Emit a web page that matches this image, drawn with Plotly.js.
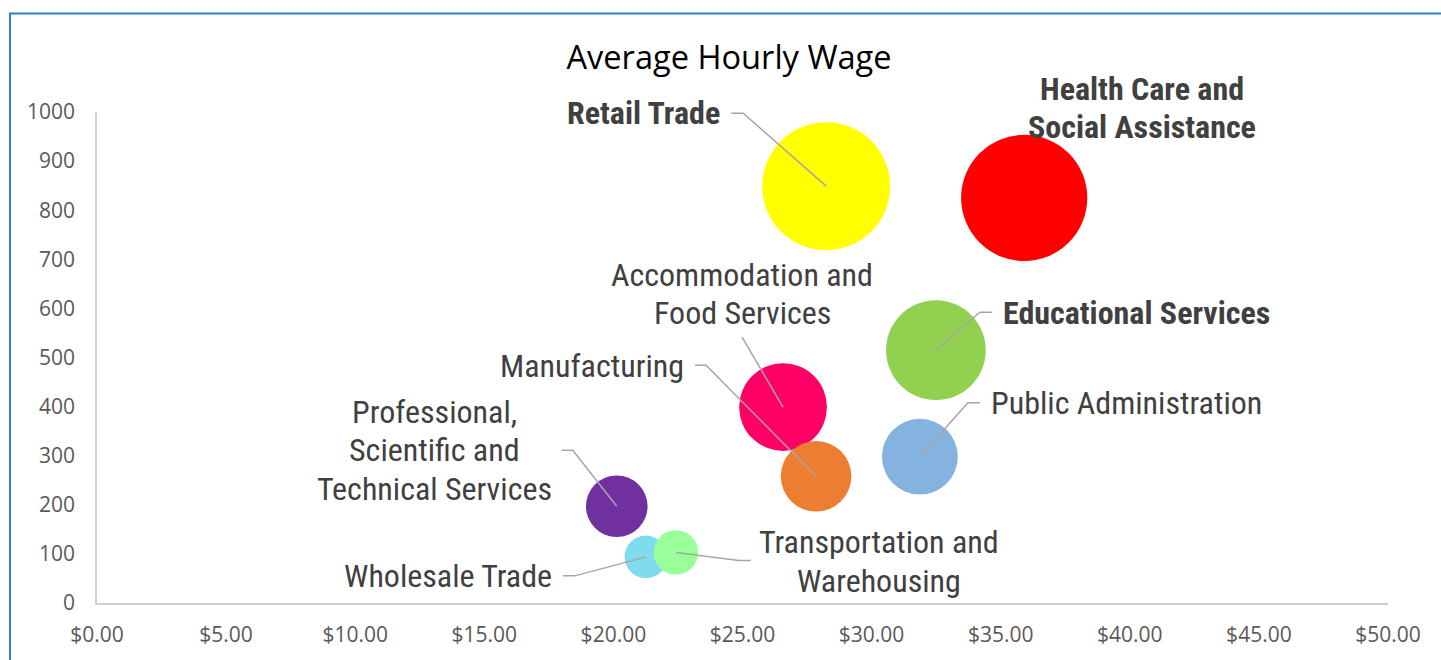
<!DOCTYPE html>
<html>
<head>
<meta charset="utf-8">
<script src="https://cdn.plot.ly/plotly-3.0.1.min.js"></script>
<style>
  html, body { margin: 0; padding: 0; background: #ffffff; }
  #chart { width: 1441px; height: 660px; }
</style>
</head>
<body>
<div id="chart"></div>
<script>
// ---- data ----
const industries = [
  "Retail Trade",
  "Health Care and Social Assistance",
  "Educational Services",
  "Accommodation and Food Services",
  "Public Administration",
  "Manufacturing",
  "Professional, Scientific and Technical Services",
  "Wholesale Trade",
  "Transportation and Warehousing"
];
const avgHourlyWage = [28.24, 35.91, 32.49, 26.57, 31.87, 27.85, 20.13, 21.26, 22.42];
const employment    = [849, 825, 515, 399, 298, 258, 197, 94, 103];
const bubbleColors  = ["#FFFF00", "#FF0000", "#92D050", "#FF0066", "#85B3DF", "#ED7D31", "#7030A0", "#7FDBEE", "#99FF99"];
const labelLines = [
  ["Retail Trade"],
  ["Health Care and", "Social Assistance"],
  ["Educational Services"],
  ["Accommodation and", "Food Services"],
  ["Public Administration"],
  ["Manufacturing"],
  ["Professional,", "Scientific and", "Technical Services"],
  ["Wholesale Trade"],
  ["Transportation and", "Warehousing"]
];
const labelBold = [true, true, true, false, false, false, false, false, false];
const xTickVals = [0, 5, 10, 15, 20, 25, 30, 35, 40, 45, 50];
const xTickText = ["$0.00", "$5.00", "$10.00", "$15.00", "$20.00", "$25.00", "$30.00", "$35.00", "$40.00", "$45.00", "$50.00"];
const yTickVals = [0, 100, 200, 300, 400, 500, 600, 700, 800, 900, 1000];

// ---- label layout (pixel offsets from bubble centre) ----
// [xshift, yshift(up), xanchor]
const labelPlace = [
  [-104, 73, "right"],
  [118, 90, "center"],
  [65, 37, "left"],
  [-41, 113, "center"],
  [69, 54, "left"],
  [-130, 110, "right"],
  [-182, 56, "center"],
  [-92, -19, "right"],
  [203, -9, "center"]
];
const lineGap = 38.5;
// leader line elbow points relative to bubble centre (pixels, y down); null = none
const leaderPts = [
  [[-83, -73], [-95, -73]],
  null,
  [[44, -38], [56, -38]],
  [[-41, -70]],
  [[48, -54], [60, -54]],
  [[-110, -111], [-121, -111]],
  [[-44, -56], [-55, -56]],
  [[-71, 19], [-83, 19]],
  [[63, 8], [75, 8]]
];

const maxDiameter = 128;
const sizeref = 2 * Math.max(...employment) / (maxDiameter * maxDiameter);

const trace = {
  type: "scatter",
  mode: "markers",
  x: avgHourlyWage,
  y: employment,
  text: industries,
  hoverinfo: "text",
  marker: {
    size: employment,
    sizemode: "area",
    sizeref: sizeref,
    color: bubbleColors,
    opacity: 1,
    line: { width: 0 }
  },
  showlegend: false,
  cliponaxis: false
};

const labelFont = "Roboto Condensed, Roboto, sans-serif";
const annotations = [];
industries.forEach((name, i) => {
  const lines = labelLines[i];
  const n = lines.length;
  lines.forEach((ln, k) => {
    annotations.push({
      x: avgHourlyWage[i],
      y: employment[i],
      xref: "x",
      yref: "y",
      text: labelBold[i] ? "<b>" + ln + "</b>" : ln,
      showarrow: false,
      xanchor: labelPlace[i][2],
      yanchor: "middle",
      align: "center",
      xshift: labelPlace[i][0],
      yshift: labelPlace[i][1] + ((n - 1) / 2 - k) * lineGap,
      font: { family: labelFont, size: 32, color: "#404040" }
    });
  });
});

const shapes = [];
industries.forEach((name, i) => {
  const pts = leaderPts[i];
  if (!pts) return;
  let path = "M0,0";
  pts.forEach(p => { path += " L" + p[0] + "," + (-p[1]); });
  shapes.push({
    type: "path",
    xref: "x", yref: "y",
    xsizemode: "pixel", ysizemode: "pixel",
    xanchor: avgHourlyWage[i], yanchor: employment[i],
    path: path,
    line: { color: "#A6A6A6", width: 1.5 },
    layer: "above"
  });
});

// outer chart border
shapes.push({
  type: "rect", xref: "paper", yref: "paper",
  x0: -0.0674, x1: 1.2, y0: -0.3, y1: 1.2006,
  line: { color: "#2F80D0", width: 2 },
  fillcolor: "rgba(0,0,0,0)",
  layer: "below"
});

const layout = {
  width: 1441,
  height: 660,
  margin: { l: 97, r: 53, t: 112, b: 57 },
  paper_bgcolor: "#ffffff",
  plot_bgcolor: "#ffffff",
  title: {
    text: "Average Hourly Wage",
    font: { family: "Open Sans, sans-serif", size: 32.6, color: "#000000" },
    x: 729 / 1441, xanchor: "center",
    y: 1 - 58 / 660, yanchor: "middle",
    xref: "container", yref: "container"
  },
  xaxis: {
    range: [0, 50],
    tickvals: xTickVals,
    ticktext: xTickText,
    showgrid: false,
    zeroline: false,
    showline: true,
    linecolor: "#D0D0D0",
    linewidth: 1.5,
    ticks: "",
    ticklabelstandoff: 12,
    tickfont: { family: "Open Sans, sans-serif", size: 21, color: "#595959" },
    fixedrange: true
  },
  yaxis: {
    range: [0, 1000],
    tickvals: yTickVals,
    showgrid: false,
    zeroline: false,
    showline: true,
    linecolor: "#D0D0D0",
    linewidth: 1.5,
    ticks: "",
    ticklabelstandoff: 16,
    tickfont: { family: "Open Sans, sans-serif", size: 21, color: "#595959" },
    fixedrange: true
  },
  annotations: annotations,
  shapes: shapes,
  showlegend: false,
  hovermode: "closest"
};

Plotly.newPlot("chart", [trace], layout, { displayModeBar: false, staticPlot: false });
</script>
</body>
</html>
